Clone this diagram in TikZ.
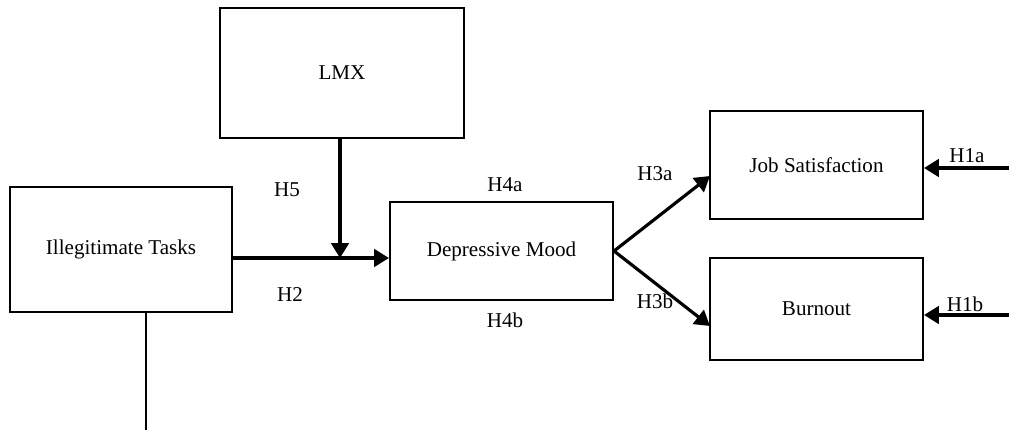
\documentclass[tikz,border=0pt]{standalone}
\usepackage{fontspec}
\setmainfont{Liberation Serif}
\usetikzlibrary{arrows.meta,positioning}
\tikzset{>={Triangle[length=8.5pt,width=10pt]},every node/.style={font=\fontsize{12}{14}\selectfont},
 box/.style={draw,line width=1.2pt,align=center,inner sep=0pt},
 link/.style={draw,line width=1.8pt,->}}
\begin{document}
\begin{tikzpicture}[x=0.02cm,y=-0.02cm]
\useasboundingbox (0,0) rectangle (1009,430);
\node[box,minimum width=4.88cm,minimum height=2.6cm] (lmx) at (342,73) {LMX};
\node[box,minimum width=4.44cm,minimum height=2.5cm] (it) at (121,249.5) {Illegitimate Tasks};
\node[box,minimum width=4.46cm,minimum height=1.96cm] (dm) at (501.5,251) {Depressive Mood};
\node[box,minimum width=4.26cm,minimum height=2.16cm] (js) at (816.5,165) {Job Satisfaction};
\node[box,minimum width=4.26cm,minimum height=2.04cm] (bo) at (816.5,309) {Burnout};
\coordinate (m) at (340,258);
\coordinate (jsin) at (710,176);
\coordinate (boin) at (710,326);
\coordinate (h1a) at (1009,168);
\coordinate (h1b) at (1009,315);
\coordinate (itdown) at (146,430);
\draw[link] (it.east|-m)--(dm.west|-m);
\draw[link] (lmx.south-|m)--(m);
\draw[link] (dm.east)--(jsin);
\draw[link] (dm.east)--(boin);
\draw[link] (h1a)--(js.east|-h1a);
\draw[link] (h1b)--(bo.east|-h1b);
\draw[line width=.6pt] (it.south-|itdown)--(itdown);
% hypothesis labels
\node (h5) at (287,190) {H5};
\node (h2) at (290,295) {H2};
\node (h4a) at (505,185) {H4a};
\node (h4b) at (505,320) {H4b};
\node (h3a) at (655,174) {H3a};
\node (h3b) at (655,301) {H3b};
\node (h1al) at (967,156) {H1a};
\node (h1bl) at (965,304) {H1b};
\end{tikzpicture}
\end{document}
